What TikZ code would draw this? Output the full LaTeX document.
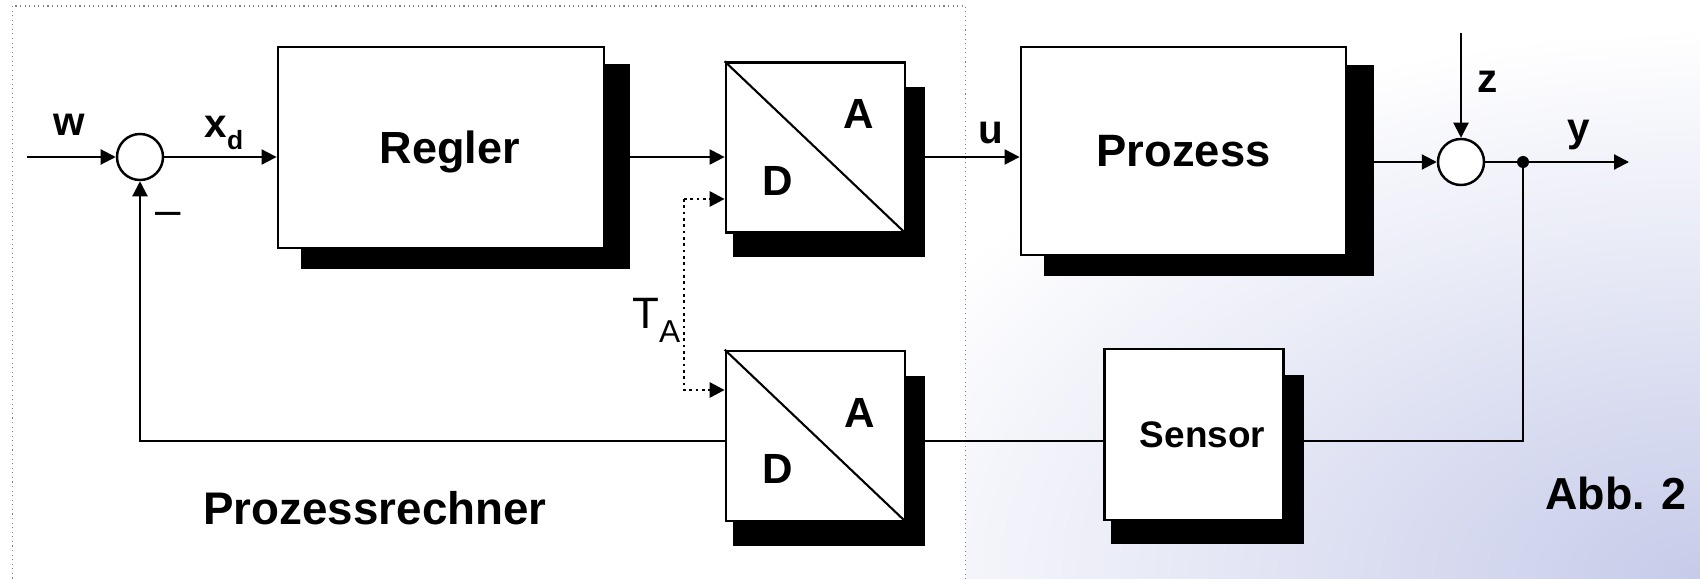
\documentclass[tikz,border=0pt]{standalone}
\usepackage{fontspec}
\setmainfont{Liberation Sans}
\usepackage{tikz}
\usetikzlibrary{arrows.meta, positioning, calc, backgrounds}
\definecolor{lav}{RGB}{198,203,233}
\tikzset{
	blk/.style={draw, line width=0.75pt, fill=white, inner sep=0pt},
	sumpt/.style={draw, circle, line width=0.7pt, fill=white, minimum size=0.46cm, inner sep=0pt},
	sig/.style={line width=0.6pt, -{Triangle[length=0.15cm, width=0.15cm]}},
	wire/.style={line width=0.6pt},
	clk/.style={line width=0.8pt, densely dotted, -{Triangle[length=0.15cm, width=0.15cm]}},
	lbl/.style={font=\fontsize{11.5}{13}\selectfont\bfseries, inner sep=0pt},
	big/.style={font=\fontsize{12.5}{14}\selectfont\bfseries, inner sep=0pt},
}

\begin{document}
\begin{tikzpicture}[x=0.01cm, y=-0.01cm]
	\useasboundingbox (0,0) rectangle (1700,579);
	\node[blk, minimum width=3.26cm, minimum height=2.01cm, text depth=0pt, font=\fontsize{12.8}{14}\selectfont\bfseries] (regler) at (441,147.5) {\hspace{0.18cm}Regler};
	\node[blk, minimum width=1.79cm, minimum height=1.70cm] (da1) at (815.5,147.7) {};
	\node[blk, minimum width=1.79cm, minimum height=1.70cm] (da2) at (815.5,436) {};
	\node[blk, minimum width=3.25cm, minimum height=2.08cm, font=\fontsize{12.9}{14}\selectfont\bfseries] (prozess) at (1183.5,151) {Prozess};
	\node[blk, minimum width=1.785cm, minimum height=1.71cm, font=\fontsize{10.5}{12}\selectfont\bfseries] (sensor) at (1194,434.5) {\hspace{0.17cm}Sensor};
	\node[sumpt] (sum1) at (140,157) {};
	\node[sumpt] (sum2) at (1461,162) {};
	\node[circle, fill, inner sep=0pt, minimum size=0.12cm] (tap) at (1523,162) {};
	\draw[line width=0.6pt] (da1.north west) -- (da1.south east);
	\draw[line width=0.6pt] (da2.north west) -- (da2.south east);
	\node[big, font=\fontsize{12}{14}\selectfont\bfseries] (da1a) at ($(da1)+(43,-34)$) {A};
	\node[big, font=\fontsize{12}{14}\selectfont\bfseries] (da1d) at ($(da1)+(-38,33)$) {D};
	\node[big, font=\fontsize{12}{14}\selectfont\bfseries] (da2a) at ($(da2)+(44,-23)$) {A};
	\node[big, font=\fontsize{12}{14}\selectfont\bfseries] (da2d) at ($(da2)+(-38,33)$) {D};
	\node[lbl] (wlbl) at (69,125) {w};
	\node[lbl] (xdlbl) at (224,133) {x\raisebox{-0.55ex}{\fontsize{7.5}{8}\selectfont d}};
	\node[inner sep=0pt, font=\fontsize{13}{14}\selectfont] (minus) at (168,219) {\textendash};
	\node[lbl] (ulbl) at (991,133) {u};
	\node[lbl] (zlbl) at (1488,82) {z};
	\node[lbl] (ylbl) at (1579,135) {y};
	\node[inner sep=0pt, anchor=east, font=\fontsize{12.5}{14}\selectfont] (talbl) at (681,320) {T\raisebox{-0.6ex}{\fontsize{9}{10}\selectfont A}};
	\node[big, font=\fontsize{13}{15}\selectfont\bfseries] (rechner) at (375,508.5) {Prozessrechner};
	\node[big, font=\fontsize{12.75}{14}\selectfont\bfseries] (abb) at (1616,493) {Abb. 2};
	\coordinate (win) at (27,157);
	\coordinate (zin) at (1461,33);
	\coordinate (yout) at (1629,162);
	\coordinate (fb) at (140,441);
	\coordinate (clkhi) at (684,199);
	\coordinate (clklo) at (684,390);
	\draw[sig] (win) -- (sum1);
	\draw[sig] (sum1) -- (sum1 -| regler.west);
	\draw[sig] ($(regler.east |- sum1)+(25,0)$) -- (sum1 -| da1.west);
	\draw[sig] ($(da1.east |- sum1)+(19,0)$) -- (sum1 -| prozess.west);
	\draw[sig] ($(prozess.east |- sum2)+(27,0)$) -- (sum2);
	\draw[sig] (zin) -- (sum2);
	\draw[sig] (sum2) -- (yout);
	\draw[wire] (tap.center) |- ($(sensor.east |- fb)+(19,0)$);
	\draw[wire] (sensor.west |- fb) -- ($(da2.east |- fb)+(19,0)$);
	\draw[sig] (da2.west |- fb) -- (fb) -- (sum1);
	\draw[clk] (clkhi) -- (clkhi -| da1.west);
	\draw[clk] (clkhi) -- (clklo) -- (clklo -| da2.west);
	\begin{pgfonlayer}{background}
		\fill[white] (0,0) rectangle (1700,579);
		\begin{scope}
			\clip (0,0) rectangle (1700,579);
			\shade[inner color=lav, outer color=white] (1700,579) ellipse [x radius=9cm, y radius=5.5cm];
			\filldraw[fill=white, draw=gray, densely dotted, line width=0.3pt] (12.5,6) rectangle (965.7,600);
		\end{scope}
		\foreach \n/\a/\b/\c/\d in {regler/24/18/25/20, da1/8/26/19/23, da2/8/26/19/24, prozess/24.5/19/27/20, sensor/8/27/19/23}
			\fill ($(\n.north west)+(\a,\b)$) rectangle ($(\n.south east)+(\c,\d)$);
	\end{pgfonlayer}
\end{tikzpicture}
\end{document}
